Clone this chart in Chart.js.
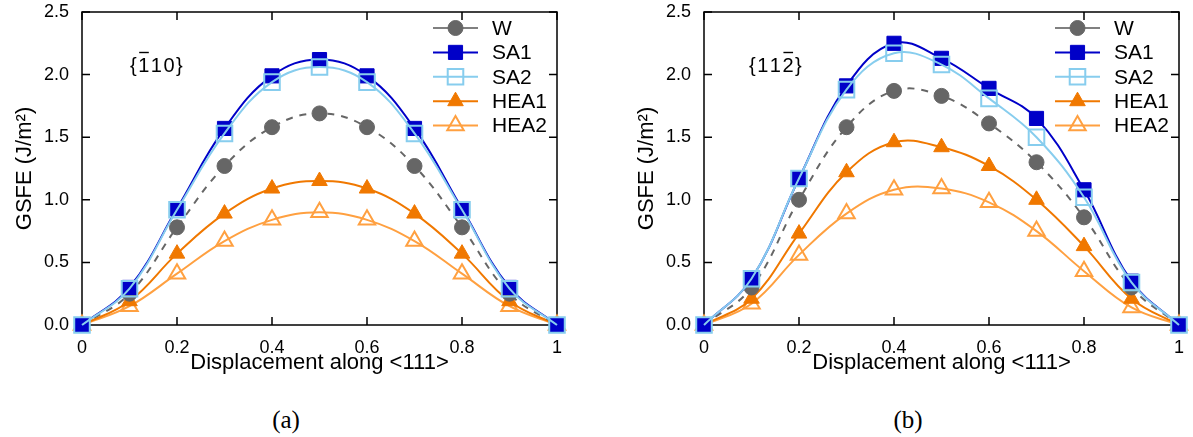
<!DOCTYPE html>
<html>
<head>
<meta charset="utf-8">
<title>GSFE curves</title>
<script src="https://cdn.jsdelivr.net/npm/chart.js@4.4.1/dist/chart.umd.min.js"></script>
<style>
  body { margin: 0; background: #fff; width: 1193px; height: 437px; position: relative; overflow: hidden; }
  .panel { position: absolute; top: 0; width: 570px; height: 380px; }
  .caption { position: absolute; top: 407px; width: 200px; text-align: center; line-height: 25px;
             font-family: "Liberation Serif", "DejaVu Serif", serif; font-size: 25px; color: #000; }
</style>
</head>
<body>
<div class="panel" style="left:0"><canvas id="gsfe110" width="570" height="380"></canvas></div>
<div class="panel" style="left:622px"><canvas id="gsfe112" width="570" height="380"></canvas></div>
<div class="caption" style="left:186px">(a)</div>
<div class="caption" style="left:808px">(b)</div>
<script>
// fractional displacement along the <111> direction
const displacement = [0, 0.1, 0.2, 0.3, 0.4, 0.5, 0.6, 0.7, 0.8, 0.9, 1.0];
const xTicks = [0, 0.2, 0.4, 0.6, 0.8, 1];
const yTicks = [0, 0.5, 1.0, 1.5, 2.0, 2.5];
const seriesNames = ['W', 'SA1', 'SA2', 'HEA1', 'HEA2'];

// {-110} plane, J/m^2
const w110    = [0, 0.25, 0.78, 1.27, 1.58, 1.69, 1.58, 1.27, 0.78, 0.25, 0];
const sa1_110 = [0, 0.30, 0.93, 1.57, 1.99, 2.12, 1.99, 1.57, 0.93, 0.30, 0];
const sa2_110 = [0, 0.29, 0.92, 1.53, 1.94, 2.06, 1.94, 1.53, 0.92, 0.29, 0];
const hea1_110 = [0, 0.19, 0.57, 0.89, 1.09, 1.15, 1.09, 0.89, 0.57, 0.19, 0];
const hea2_110 = [0, 0.15, 0.41, 0.67, 0.84, 0.90, 0.84, 0.67, 0.41, 0.15, 0];

// {11-2} plane, J/m^2
const w112    = [0, 0.30, 1.00, 1.58, 1.87, 1.83, 1.61, 1.30, 0.86, 0.30, 0];
const sa1_112 = [0, 0.37, 1.17, 1.91, 2.25, 2.13, 1.89, 1.65, 1.08, 0.35, 0];
const sa2_112 = [0, 0.37, 1.17, 1.88, 2.17, 2.08, 1.81, 1.50, 1.02, 0.34, 0];
const hea1_112 = [0, 0.21, 0.73, 1.22, 1.46, 1.42, 1.27, 1.00, 0.63, 0.21, 0];
const hea2_112 = [0, 0.17, 0.56, 0.89, 1.08, 1.09, 0.98, 0.75, 0.43, 0.14, 0];

const FONT = '"Liberation Sans", Arial, Helvetica, sans-serif';
Chart.defaults.font.family = FONT;
Chart.defaults.color = '#000';

const styles = {
  W:    { color: '#666666', legendLine: '#808080', pointStyle: 'circle',   radius: 7.5, filled: true,  dash: [7, 7], order: 3 },
  SA1:  { color: '#0000c8', pointStyle: 'rect',     radius: 10,  filled: true,  order: 2 },
  SA2:  { color: '#87cdee', pointStyle: 'rect',     radius: 11,  filled: false, order: 1 },
  HEA1: { color: '#f07800', pointStyle: 'triangle', radius: 9,   filled: true,  order: 4 },
  HEA2: { color: '#ffa040', pointStyle: 'triangle', radius: 9.5, filled: false, order: 5 }
};

function makeDataset(name, values) {
  const s = styles[name];
  return {
    label: name,
    data: displacement.map((x, i) => ({ x: x, y: values[i] })),
    borderColor: s.color,
    borderWidth: 2,
    borderDash: s.dash || [],
    tension: 0.4,
    pointStyle: s.pointStyle,
    pointRadius: s.radius,
    pointHoverRadius: s.radius,
    pointBackgroundColor: s.filled ? s.color : 'rgba(0,0,0,0)',
    pointBorderColor: s.color,
    pointBorderWidth: s.filled ? 1 : 2,
    clip: false,
    order: s.order
  };
}

// box, inward ticks on all four sides, key and plane label
const framePlugin = {
  id: 'gsfeFrame',
  beforeDatasetsDraw(chart) {
    const { ctx, chartArea: { left, right, top, bottom }, scales: { x, y } } = chart;
    ctx.save();
    ctx.strokeStyle = '#000';
    ctx.lineWidth = 1.5;
    ctx.strokeRect(left, top, right - left, bottom - top);
    ctx.beginPath();
    x.ticks.forEach(t => {
      const px = x.getPixelForValue(t.value);
      ctx.moveTo(px, bottom); ctx.lineTo(px, bottom - 8);
      ctx.moveTo(px, top); ctx.lineTo(px, top + 8);
    });
    y.ticks.forEach(t => {
      const py = y.getPixelForValue(t.value);
      ctx.moveTo(left, py); ctx.lineTo(left + 8, py);
      ctx.moveTo(right, py); ctx.lineTo(right - 8, py);
    });
    ctx.stroke();
    ctx.restore();
  },
  afterDraw(chart, args, opts) {
    const { ctx, chartArea: { left, right, top } } = chart;
    ctx.save();

    // key
    ctx.font = '21px ' + FONT;
    ctx.textBaseline = 'middle';
    ctx.textAlign = 'left';
    seriesNames.forEach((name, i) => {
      const s = styles[name];
      const ds = chart.data.datasets.find(d => d.label === name);
      const ry = top + 16 + i * 24.4;
      ctx.strokeStyle = s.legendLine || s.color;
      ctx.lineWidth = 2;
      ctx.setLineDash([]);
      ctx.beginPath();
      ctx.moveTo(right - 124, ry);
      ctx.lineTo(right - 79, ry);
      ctx.stroke();
      ctx.fillStyle = ds.pointBackgroundColor;
      ctx.strokeStyle = ds.pointBorderColor;
      ctx.lineWidth = ds.pointBorderWidth;
      Chart.helpers.drawPoint(ctx, {
        pointStyle: ds.pointStyle, radius: ds.pointRadius, borderWidth: ds.pointBorderWidth, rotation: 0
      }, right - 101.5, ry);
      ctx.fillStyle = '#000';
      ctx.fillText(name, right - 65, ry + 1);
    });

    // plane label, one digit carries an overbar
    ctx.font = '20px ' + FONT;
    const chars = opts.plane.split('');
    let cx = left + opts.dx;
    const base = top + 60;
    ctx.textBaseline = 'alphabetic';
    ctx.fillStyle = '#000';
    ctx.strokeStyle = '#000';
    ctx.lineWidth = 1.4;
    chars.forEach((c, i) => {
      const w = ctx.measureText(c).width;
      ctx.fillText(c, cx, base);
      if (i === opts.bar) {
        ctx.beginPath();
        ctx.moveTo(cx + 1, base - 19.5);
        ctx.lineTo(cx + w - 0.5, base - 19.5);
        ctx.stroke();
      }
      cx += w + 1.5;
    });
    ctx.restore();
  }
};

function makeOptions(plane, bar, dx) {
  return {
    responsive: false,
    animation: false,
    devicePixelRatio: 1,
    layout: { padding: { top: 12, right: 13, bottom: 0, left: 0 }, autoPadding: false },
    plugins: {
      legend: { display: false },
      tooltip: { enabled: false },
      gsfeFrame: { plane: plane, bar: bar, dx: dx }
    },
    scales: {
      x: {
        type: 'linear', min: 0, max: 1,
        afterBuildTicks: s => { s.ticks = xTicks.map(v => ({ value: v })); },
        afterFit: s => { s.height = 55; s.paddingLeft = 0; s.paddingRight = 0; },
        ticks: {
          font: { size: 18 }, padding: 12, maxRotation: 0, autoSkip: false,
          callback: v => (v === 0 ? '0' : v === 1 ? '1' : v.toFixed(1))
        },
        grid: { display: false, drawTicks: false },
        border: { display: false },
        title: { display: true, text: 'Displacement along <111>', font: { size: 22 }, padding: { top: 0, bottom: 4 } }
      },
      y: {
        type: 'linear', min: 0, max: 2.5,
        afterBuildTicks: s => { s.ticks = yTicks.map(v => ({ value: v })); },
        afterFit: s => { s.width = 82; s.paddingTop = 0; s.paddingBottom = 0; },
        ticks: { font: { size: 18 }, padding: 13, autoSkip: false, callback: v => v.toFixed(1) },
        grid: { display: false, drawTicks: false },
        border: { display: false },
        title: { display: true, text: 'GSFE (J/m²)', font: { size: 22 }, padding: { top: 12, bottom: 0 } }
      }
    }
  };
}

new Chart(document.getElementById('gsfe110'), {
  type: 'line',
  data: {
    datasets: [
      makeDataset('W', w110),
      makeDataset('SA1', sa1_110),
      makeDataset('SA2', sa2_110),
      makeDataset('HEA1', hea1_110),
      makeDataset('HEA2', hea2_110)
    ]
  },
  options: makeOptions('{110}', 1, 48),
  plugins: [framePlugin]
});

new Chart(document.getElementById('gsfe112'), {
  type: 'line',
  data: {
    datasets: [
      makeDataset('W', w112),
      makeDataset('SA1', sa1_112),
      makeDataset('SA2', sa2_112),
      makeDataset('HEA1', hea1_112),
      makeDataset('HEA2', hea2_112)
    ]
  },
  options: makeOptions('{112}', 3, 45),
  plugins: [framePlugin]
});
</script>
</body>
</html>
